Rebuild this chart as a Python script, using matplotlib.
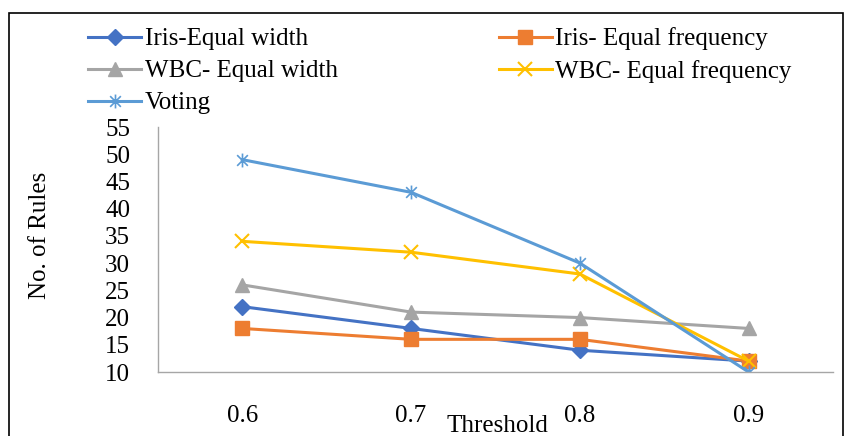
import matplotlib
matplotlib.use("Agg")
import matplotlib.pyplot as plt
from matplotlib.path import Path
from matplotlib.patches import Rectangle

plt.rcParams['font.family'] = ['Liberation Serif', 'DejaVu Serif']

thresholds = ['0.6', '0.7', '0.8', '0.9']
iris_width = [22, 18, 14, 12]
iris_freq = [18, 16, 16, 12]
wbc_width = [26, 21, 20, 18]
wbc_freq = [34, 32, 28, 12]
voting = [49, 43, 30, 10]

# Excel-style star: x plus a vertical bar
star = Path([(-1, -1), (1, 1), (-1, 1), (1, -1), (0, -1.3), (0, 1.3)],
            [Path.MOVETO, Path.LINETO, Path.MOVETO, Path.LINETO, Path.MOVETO, Path.LINETO])

W, H = 845, 436
fs = 18
fig = plt.figure(figsize=(W / 100, H / 100), dpi=100)
ax = fig.add_axes([158 / W, 1 - 372 / H, (833 - 158) / W, (372 - 127) / H])

x = range(len(thresholds))
lw = 2.2
l1, = ax.plot(x, iris_width, color='#4472C4', lw=lw, marker='D', ms=8, label='Iris-Equal width')
l2, = ax.plot(x, iris_freq, color='#ED7D31', lw=lw, marker='s', ms=10, label='Iris- Equal frequency')
l3, = ax.plot(x, wbc_width, color='#A5A5A5', lw=lw, marker='^', ms=10, label='WBC- Equal width')
l4, = ax.plot(x, wbc_freq, color='#FFC000', lw=lw, marker='x', ms=10, mew=1.5, label='WBC- Equal frequency')
l5, = ax.plot(x, voting, color='#5B9BD5', lw=lw, marker=star, ms=10, mew=1.2, label='Voting')

ax.set_xlim(-0.5, 3.5)
ax.set_ylim(10, 55)
ax.set_yticks(range(10, 56, 5))
ax.set_xticks(list(x))
ax.set_xticklabels(thresholds)
ax.tick_params(length=0, labelsize=fs)
ax.tick_params(axis='y', pad=20)
ax.tick_params(axis='x', pad=24)
for s in ['top', 'right']:
    ax.spines[s].set_visible(False)
for s in ['left', 'bottom']:
    ax.spines[s].set_color('#A6A6A6')
    ax.spines[s].set_linewidth(1)

fig.text(497 / W, 1 - 426 / H, 'Threshold', ha='center', va='center', fontsize=fs)
fig.text(40 / W, 1 - 235 / H, 'No. of Rules', ha='center', va='center', rotation=90, fontsize=fs)

fig.legend([l1, l3, l5, l2, l4], [l1.get_label(), l3.get_label(), l5.get_label(), l2.get_label(), l4.get_label()],
           ncol=2, loc='upper left', bbox_to_anchor=(66 / W, 1 - 5 / H), frameon=False, fontsize=fs,
           handlelength=2.1, handletextpad=0.15, columnspacing=6.45, labelspacing=0.38)

fig.add_artist(Rectangle((9 / W, -0.05), (843 - 9) / W, 1.05 - 13 / H, transform=fig.transFigure,
                         fill=False, edgecolor='black', lw=1.2))

fig.savefig('out.png', dpi=100)
